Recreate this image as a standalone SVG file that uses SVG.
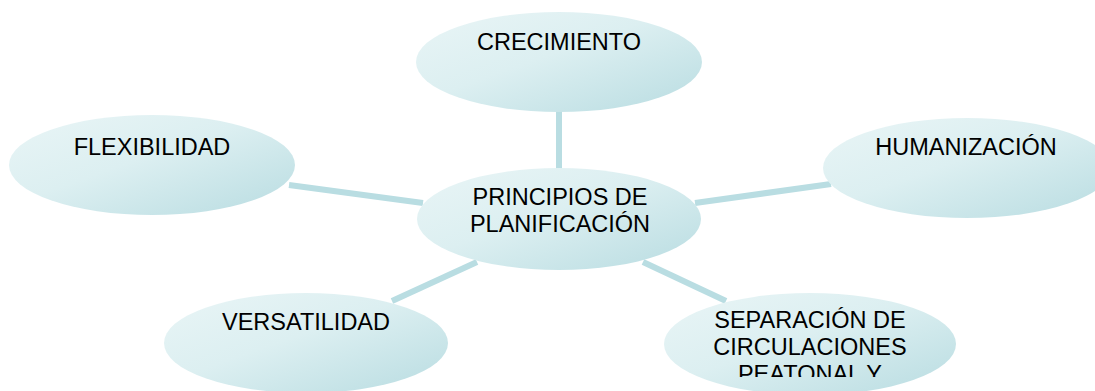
<svg xmlns="http://www.w3.org/2000/svg" width="1095" height="391" viewBox="0 0 1095 391">
<defs>
<linearGradient id="g" x1="0" y1="0" x2="1" y2="1">
<stop offset="0" stop-color="#e9f5f6"/>
<stop offset="0.45" stop-color="#dceff1"/>
<stop offset="1" stop-color="#b8dce1"/>
</linearGradient>
<clipPath id="clipSep"><rect x="600" y="280" width="400" height="97"/></clipPath>
</defs>
<style>
.node{fill:url(#g);stroke:none}
.conn line{stroke:#b9dde2;stroke-width:6;stroke-linecap:butt}
text{font-family:"Liberation Sans",Arial,sans-serif;font-size:23.5px;fill:#000;text-anchor:middle}
</style>
<rect width="1095" height="391" fill="#fff"/>
<g id="connectors" class="conn">
<line x1="559" y1="110" x2="559" y2="170"/>
<line x1="289" y1="185" x2="423" y2="203"/>
<line x1="695" y1="203" x2="831" y2="184"/>
<line x1="392" y1="301" x2="477" y2="262"/>
<line x1="643" y1="262" x2="726" y2="301"/>
</g>
<g id="crecimiento">
<ellipse class="node" cx="559" cy="62" rx="143" ry="50"/>
<text x="559" y="50">CRECIMIENTO</text>
</g>
<g id="flexibilidad">
<ellipse class="node" cx="152" cy="165" rx="143" ry="50"/>
<text x="152" y="155">FLEXIBILIDAD</text>
</g>
<g id="humanizacion">
<ellipse class="node" cx="967" cy="168" rx="144" ry="50"/>
<text x="966" y="155">HUMANIZACIÓN</text>
</g>
<g id="principios">
<ellipse class="node" cx="559" cy="219" rx="142" ry="51"/>
<text x="560" y="205">PRINCIPIOS DE</text>
<text x="560" y="232">PLANIFICACIÓN</text>
</g>
<g id="versatilidad">
<ellipse class="node" cx="306" cy="343" rx="142" ry="50"/>
<text x="306" y="330">VERSATILIDAD</text>
</g>
<g id="separacion">
<ellipse class="node" cx="810" cy="344" rx="146" ry="51"/>
<g clip-path="url(#clipSep)">
<text x="810" y="328">SEPARACIÓN DE</text>
<text x="810" y="355">CIRCULACIONES</text>
<text x="810" y="382">PEATONAL Y</text>
</g>
</g>
</svg>
